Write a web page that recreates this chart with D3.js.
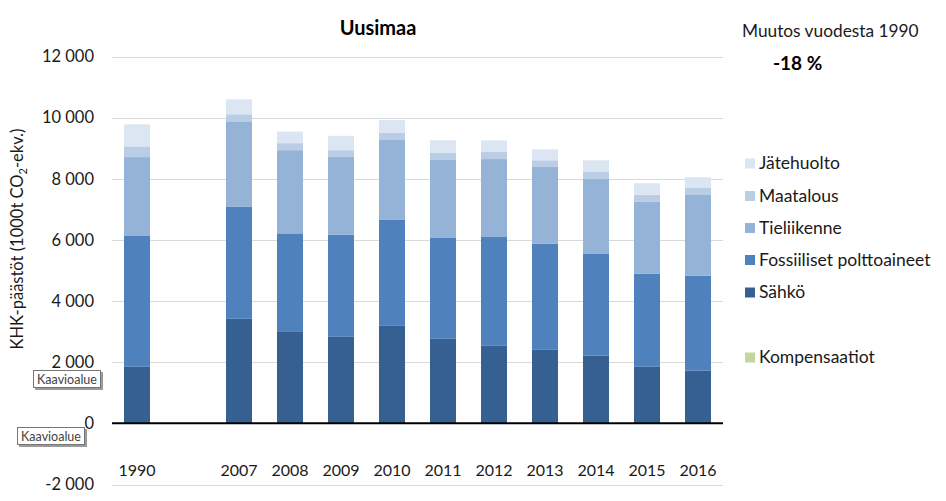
<!DOCTYPE html>
<html>
<head>
<meta charset="utf-8">
<script src="https://cdn.jsdelivr.net/npm/d3@7"></script>
<style>
  html, body { margin: 0; padding: 0; background: #fff; }
  svg { display: block; font-family: Lato, "Open Sans", sans-serif; }
</style>
</head>
<body>
<svg id="chart" width="946" height="501"></svg>
<script>
// ---- data ----
const years = ["1990", " ", "2007", "2008", "2009", "2010", "2011", "2012", "2013", "2014", "2015", "2016"];
const sahko        = [1850, null, 3420, 2990, 2830, 3190, 2765, 2535, 2405, 2210, 1850, 1720];
const fossiiliset  = [4280, null, 3660, 3225, 3335, 3465, 3300, 3560, 3465, 3330, 3040, 3105];
const tieliikenne  = [2580, null, 2800, 2720, 2550, 2615, 2550, 2550, 2515, 2450, 2355, 2645];
const maatalous    = [350,  null, 230,  230,  220,  230,  230,  230,  220,  230,  230,  230];
const jatehuolto   = [720,  null, 490,  380,  470,  425,  415,  380,  360,  385,  380,  350];
const kompensaatiot= [0,    null, 0,    0,    0,    0,    0,    0,    0,    0,    0,    0];
const yTicks = [-2000, 0, 2000, 4000, 6000, 8000, 10000, 12000];
const seriesNames = ["Sähkö", "Fossiiliset polttoaineet", "Tieliikenne", "Maatalous", "Jätehuolto"];
const seriesValues = [sahko, fossiiliset, tieliikenne, maatalous, jatehuolto];
const colors = ["#376092", "#4f81bd", "#95b3d7", "#b9cde5", "#dce6f2"];
const kompColor = "#c3d69b";
const title = "Uusimaa";
const changeLabel = "Muutos vuodesta 1990";
const changeValue = "-18 %";

// ---- layout ----
const svg = d3.select("#chart");
const x = d3.scaleBand().domain(years).range([111.5, 723.5]).paddingInner(0.49).paddingOuter(0.245);
const y = d3.scaleLinear().domain([-2000, 12000]).range([484.5, 56.5]);

// gridlines
svg.append("g").selectAll("line").data(yTicks.filter(t => t !== 0)).join("line")
  .attr("x1", 112).attr("x2", 723)
  .attr("y1", d => Math.round(y(d)) + 0.5).attr("y2", d => Math.round(y(d)) + 0.5)
  .attr("stroke", "#d9d9d9").attr("stroke-width", 1);

// y axis labels
const yAxis = d3.axisLeft(y).tickValues(yTicks).tickSize(0).tickPadding(0)
  .tickFormat(d => d3.format(",")(d).replace(/,/g, " ").replace("\u2212", "-"));
const yg = svg.append("g").attr("transform", "translate(94,0)").call(yAxis);
yg.select(".domain").remove();
yg.selectAll("text").attr("font-size", 16.5).attr("fill", "#1a1a1a").attr("font-family", "Lato, sans-serif");

// stacked bars
const stackData = years.map((yr, i) => {
  const o = { year: yr };
  seriesNames.forEach((s, k) => { o[s] = seriesValues[k][i] || 0; });
  return o;
});
const stack = d3.stack().keys(seriesNames)(stackData);
svg.append("g").selectAll("g").data(stack).join("g")
  .attr("fill", (d, i) => colors[i])
  .selectAll("rect").data(d => d.filter(p => p.data.year.trim() !== "")).join("rect")
  .attr("x", d => x(d.data.year))
  .attr("width", x.bandwidth())
  .attr("y", d => y(d[1]))
  .attr("height", d => Math.max(0, y(d[0]) - y(d[1])));

// kompensaatiot (negative, zero)
svg.append("g").selectAll("rect").data(years.map((yr, i) => ({ yr, v: kompensaatiot[i] || 0 })).filter(d => d.yr.trim() !== "")).join("rect")
  .attr("x", d => x(d.yr)).attr("width", x.bandwidth())
  .attr("y", y(0)).attr("height", d => y(d.v) - y(0)).attr("fill", kompColor);

// zero line
svg.append("line").attr("x1", 112).attr("x2", 723).attr("y1", y(0)).attr("y2", y(0))
  .attr("stroke", "#000").attr("stroke-width", 2);

// x labels
const xAxis = d3.axisBottom(x).tickSize(0).tickPadding(0);
const xg = svg.append("g").attr("transform", "translate(0,465)").call(xAxis);
xg.select(".domain").remove();
xg.selectAll("text").attr("font-size", 16).attr("fill", "#1a1a1a").attr("font-family", "Lato, sans-serif");

// y title
const yt = svg.append("text").attr("transform", "translate(23,239) rotate(-90)")
  .attr("text-anchor", "middle").attr("font-size", 16.5).attr("fill", "#1a1a1a");
yt.append("tspan").text("KHK-päästöt (1000t CO");
yt.append("tspan").attr("font-size", 11).attr("dy", 4).text("2");
yt.append("tspan").attr("dy", -4).text("-ekv.)");

// title
svg.append("text").attr("x", 378).attr("y", 35).attr("text-anchor", "middle")
  .attr("font-size", 20).attr("font-weight", "bold").attr("fill", "#000").text(title);

// change text
svg.append("text").attr("x", 742).attr("y", 37).attr("font-size", 17.3).attr("fill", "#1a1a1a").text(changeLabel);
svg.append("text").attr("x", 773).attr("y", 70).attr("font-size", 19).attr("font-weight", "bold").attr("fill", "#000").text(changeValue);

// legend
const legendItems = [
  { name: "Jätehuolto", color: colors[4], y: 162.5 },
  { name: "Maatalous", color: colors[3], y: 195 },
  { name: "Tieliikenne", color: colors[2], y: 227 },
  { name: "Fossiiliset polttoaineet", color: colors[1], y: 259 },
  { name: "Sähkö", color: colors[0], y: 291.5 },
  { name: "Kompensaatiot", color: kompColor, y: 356.5 }
];
const lg = svg.append("g").selectAll("g").data(legendItems).join("g");
lg.append("rect").attr("x", 745).attr("y", d => d.y - 4).attr("width", 10).attr("height", 10).attr("fill", d => d.color);
lg.append("text").attr("x", 759).attr("y", d => d.y + 6.5).attr("font-size", 17.5).attr("fill", "#1a1a1a").text(d => d.name);

// "Kaavioalue" tooltips
const tips = [{ x: 33, y: 370 }, { x: 17, y: 427 }];
const tg = svg.append("g").selectAll("g").data(tips).join("g");
tg.append("rect").attr("x", d => d.x + 2).attr("y", d => d.y + 2).attr("width", 68).attr("height", 18).attr("fill", "#9a9a9a");
tg.append("rect").attr("x", d => d.x + 0.5).attr("y", d => d.y + 0.5).attr("width", 67).attr("height", 17).attr("fill", "#fff").attr("stroke", "#767676");
tg.append("text").attr("x", d => d.x + 34).attr("y", d => d.y + 13.5).attr("text-anchor", "middle")
  .attr("font-size", 12.5).attr("fill", "#444").attr("font-family", "Lato, sans-serif").text("Kaavioalue");
</script>
</body>
</html>
